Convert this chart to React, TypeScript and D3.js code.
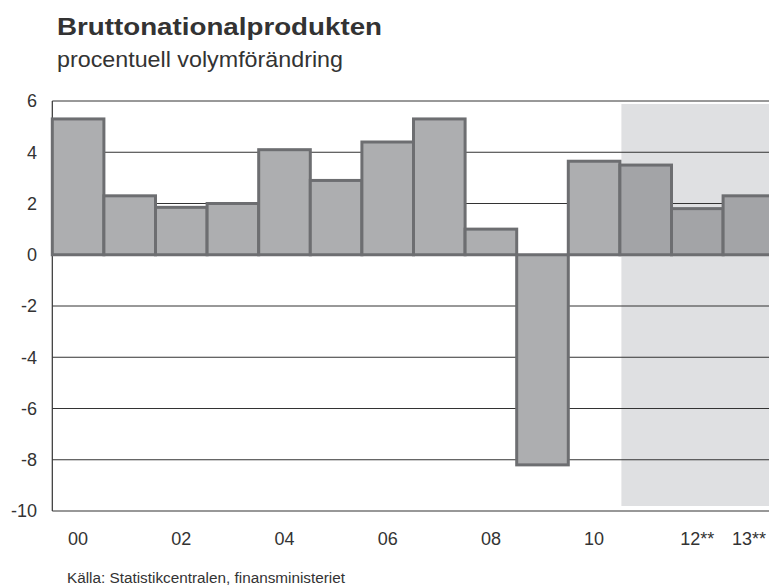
import React from "react";
import * as d3 from "d3";

const years = ["00","01","02","03","04","05","06","07","08","09","10","11","12","13"];
const values = [5.3, 2.3, 1.85, 2.0, 4.1, 2.9, 4.4, 5.3, 1.0, -8.2, 3.65, 3.5, 1.8, 2.3];
const forecastFrom = "11";
const xTickLabels: Record<string, string> = { "00": "00", "02": "02", "04": "04", "06": "06", "08": "08", "10": "10", "12": "12**", "13": "13**" };
const yTicks = [6, 4, 2, 0, -2, -4, -6, -8, -10];
const title = "Bruttonationalprodukten";
const subtitle = "procentuell volymförändring";
const source = "Källa: Statistikcentralen, finansministeriet";

export default function App() {
  const W = 769, H = 587;
  const left = 52.3, bandW = 51.6;
  const top = 101, bottom = 511;
  const x = d3.scaleBand<string>().domain(years).range([left, left + bandW * years.length]).padding(0);
  const y = d3.scaleLinear().domain([-10, 6]).range([bottom, top]);
  const font = "'Liberation Sans', Arial, sans-serif";
  const shadeX = x(forecastFrom)! + 1.5;
  return (
    <svg width={W} height={H} style={{ position: "absolute", left: 0, top: 0, background: "#fff" }} fontFamily={font}>
      <text x={57} y={34.5} fontSize={24.5} fontWeight="bold" fill="#333" textLength={325} lengthAdjust="spacingAndGlyphs">{title}</text>
      <text x={57} y={66.5} fontSize={22} fill="#333" textLength={286} lengthAdjust="spacingAndGlyphs">{subtitle}</text>
      <rect x={shadeX} y={104} width={W - shadeX} height={506 - 104} fill="#dfe0e2" />
      {yTicks.map(t => (
        <g key={t}>
          {t !== -10 && <line x1={left} x2={W} y1={y(t)} y2={y(t)} stroke="#333" strokeWidth={1} />}
          <text x={37} y={y(t)} dy="0.36em" textAnchor="end" fontSize={18} fill="#333">{t}</text>
        </g>
      ))}
      <line x1={left} x2={left} y1={top} y2={bottom} stroke="#333" strokeWidth={1.2} />
      <line x1={left} x2={W} y1={bottom} y2={bottom} stroke="#333" strokeWidth={1.2} />
      {years.map((yr, i) => {
        const v = values[i];
        const isF = years.indexOf(yr) >= years.indexOf(forecastFrom);
        const y0 = y(Math.max(0, v)), y1 = y(Math.min(0, v));
        return (
          <rect key={yr} x={x(yr)!} y={y0} width={x.bandwidth()} height={y1 - y0}
            fill={isF ? "#a3a4a7" : "#adaeb0"} stroke="#6d6e71" strokeWidth={3} />
        );
      })}
      {years.map(yr => xTickLabels[yr] ? (
        <text key={yr} x={x(yr)! + x.bandwidth() / 2} y={545} textAnchor="middle" fontSize={18} fill="#333">{xTickLabels[yr]}</text>
      ) : null)}
      <text x={67} y={583} fontSize={14} fill="#333" textLength={278} lengthAdjust="spacingAndGlyphs">{source}</text>
    </svg>
  );
}
